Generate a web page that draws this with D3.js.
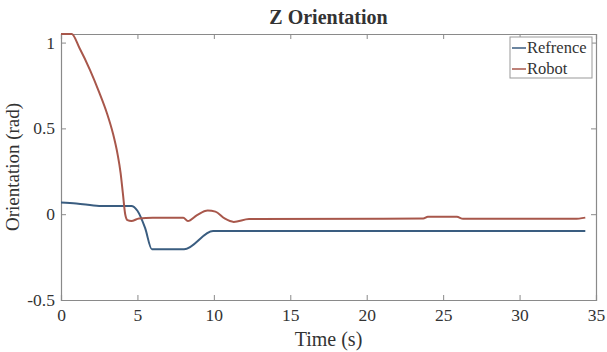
<!DOCTYPE html>
<html>
<head>
<meta charset="utf-8">
<script src="https://cdn.jsdelivr.net/npm/d3@7"></script>
<style>
  body { margin: 0; background: #fff; }
  svg text { font-family: "Liberation Serif", "DejaVu Serif", serif; fill: #333; }
</style>
</head>
<body>
<div id="root"></div>
<script>
// time (s) / orientation (rad) samples
var refTime  = [0, 1, 2.5, 4.6, 5.0, 5.5, 5.95, 8.05, 9.95, 34.3];
var refValue = [0.068, 0.063, 0.048, 0.048, 0.02, -0.08, -0.205, -0.205, -0.098, -0.098];

var robotTime  = [0, 0.7, 1.2, 1.9, 2.5, 3.0, 3.4, 3.7, 3.9, 4.05, 4.2, 4.35, 4.6, 5.1, 6, 8, 8.3, 8.9, 9.6, 10.1, 10.7, 11.3, 12.3, 23.7, 24.0, 25.9, 26.3, 33.6, 34.3];
var robotValue = [1.05, 1.05, 0.97, 0.84, 0.71, 0.59, 0.47, 0.35, 0.24, 0.12, 0.0, -0.035, -0.04, -0.025, -0.02, -0.02, -0.04, -0.005, 0.022, 0.015, -0.025, -0.045, -0.028, -0.025, -0.015, -0.015, -0.027, -0.027, -0.02];

var xTicks = [0, 5, 10, 15, 20, 25, 30, 35];
var yTicks = [-0.5, 0, 0.5, 1];
var seriesNames = ["Refrence", "Robot"];
var seriesColors = ["#3a5d80", "#a8574b"];

function draw(){
    var width = 607, height = 352;
    var margin = {top: 34, right: 11, bottom: 52, left: 61};
    var w = width - margin.left - margin.right,
        h = height - margin.top - margin.bottom;

    d3.select("#root").html("");
    var svg = d3.select("#root").append("svg")
        .attr("width", width)
        .attr("height", height);

    var x = d3.scaleLinear().domain([0, 35]).range([0, w]);
    var y = d3.scaleLinear().domain([-0.5, 1.05]).range([h, 0]);

    var g = svg.append("g").attr("transform", "translate(" + margin.left + "," + margin.top + ")");

    // axes with inward ticks, MATLAB style box
    var axisColor = "#8a8a8a";
    var xAxis = g.append("g").attr("transform", "translate(0," + h + ")")
        .call(d3.axisBottom(x).tickValues(xTicks).tickSize(-5).tickPadding(9).tickFormat(d3.format("d")));
    var xTop = g.append("g")
        .call(d3.axisTop(x).tickValues(xTicks).tickSize(-5).tickFormat(""));
    var yAxis = g.append("g")
        .call(d3.axisLeft(y).tickValues(yTicks).tickSize(-5).tickPadding(6).tickFormat(function(d){ return d; }));
    var yRight = g.append("g").attr("transform", "translate(" + w + ",0)")
        .call(d3.axisRight(y).tickValues(yTicks).tickSize(-5).tickFormat(""));

    [xAxis, xTop, yAxis, yRight].forEach(function(a){
        a.select(".domain").attr("stroke", axisColor).attr("stroke-width", 1.2);
        a.selectAll(".tick line").attr("stroke", axisColor);
        a.selectAll("text").style("font-size", "17.5px").attr("fill", "#333");
    });

    var line = d3.line()
        .curve(d3.curveMonotoneX)
        .x(function(d){ return x(d[0]); })
        .y(function(d){ return y(d[1]); });

    var refData = refTime.map(function(t, i){ return [t, refValue[i]]; });
    var robotData = robotTime.map(function(t, i){ return [t, robotValue[i]]; });

    g.append("path").datum(refData)
        .attr("d", line)
        .attr("fill", "none")
        .attr("stroke", seriesColors[0])
        .attr("stroke-width", 2);

    g.append("path").datum(robotData)
        .attr("d", line)
        .attr("fill", "none")
        .attr("stroke", seriesColors[1])
        .attr("stroke-width", 2);

    // title and axis labels
    svg.append("text")
        .attr("x", margin.left + w / 2)
        .attr("y", 24)
        .attr("text-anchor", "middle")
        .style("font-size", "20px")
        .style("font-weight", "bold")
        .text("Z Orientation");

    svg.append("text")
        .attr("x", margin.left + w / 2)
        .attr("y", 346)
        .attr("text-anchor", "middle")
        .style("font-size", "20px")
        .text("Time (s)");

    svg.append("text")
        .attr("transform", "translate(19," + (margin.top + h / 2) + ") rotate(-90)")
        .attr("text-anchor", "middle")
        .style("font-size", "19px")
        .text("Orientation (rad)");

    // legend
    var lg = svg.append("g").attr("transform", "translate(510,37)");
    lg.append("rect")
        .attr("width", 82).attr("height", 41)
        .attr("fill", "#fff")
        .attr("stroke", "#999")
        .attr("stroke-width", 1);
    seriesNames.forEach(function(name, i){
        var yy = 11 + i * 21;
        lg.append("line")
            .attr("x1", 2).attr("x2", 16)
            .attr("y1", yy).attr("y2", yy)
            .attr("stroke", seriesColors[i])
            .attr("stroke-width", 1.5);
        lg.append("text")
            .attr("x", 17).attr("y", yy + 5)
            .style("font-size", "16.5px")
            .text(name);
    });
}

draw();
</script>
</body>
</html>
